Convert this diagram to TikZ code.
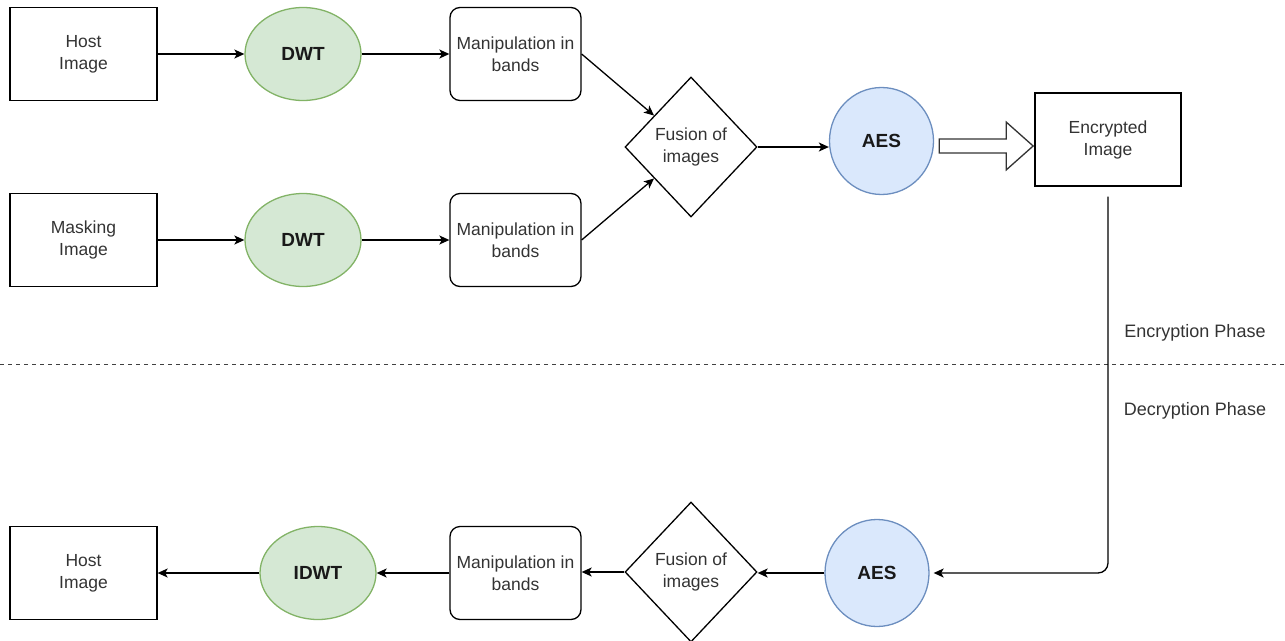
\documentclass[tikz,border=0pt]{standalone}
\usepackage{fontspec}
\setmainfont{Liberation Sans}
\usetikzlibrary{arrows.meta,shapes.geometric,calc}
\definecolor{grnfill}{HTML}{D5E8D4}
\definecolor{grnline}{HTML}{82B366}
\definecolor{blufill}{HTML}{DAE8FC}
\definecolor{bluline}{HTML}{6C8EBF}
\definecolor{txt}{HTML}{333333}
\begin{document}
\begin{tikzpicture}[x=1pt,y=-1pt,
  base/.style={line width=1.3pt, font=\fontsize{17.5}{22}\selectfont, text=txt, align=center, inner sep=0pt},
  imgbox/.style={base, draw, minimum width=147pt, minimum height=93pt},
  bandbox/.style={base, draw, rounded corners=10pt, minimum width=131pt, minimum height=93pt},
  dwtnode/.style={base, ellipse, draw=grnline, fill=grnfill, minimum width=116pt, minimum height=93pt,
    font=\fontsize{19}{22}\selectfont\bfseries, text=black!90},
  aesnode/.style={base, ellipse, draw=bluline, fill=blufill, minimum width=104pt, minimum height=107pt,
    font=\fontsize{19}{22}\selectfont\bfseries, text=black!90},
  fusnode/.style={base, diamond, draw, minimum width=132pt, minimum height=140pt},
  phase/.style={font=\fontsize{18}{22}\selectfont, text=txt, inner sep=0pt},
  arr/.style={line width=1.3pt, -{Stealth[length=10pt,width=9pt,inset=2.5pt]}},
]
\useasboundingbox (0,0) rectangle (1285,640);

% encryption row 1
\node[imgbox]  (host1) at (83.5,54)  {Host\\Image};
\node[dwtnode] (dwt1)  at (303,54)   {DWT};
\node[bandbox] (band1) at (515.5,54) {Manipulation in\\bands};

% encryption row 2
\node[imgbox]  (mask)  at (83.5,240)  {Masking\\Image};
\node[dwtnode] (dwt2)  at (303,240)   {DWT};
\node[bandbox] (band2) at (515.5,240) {Manipulation in\\bands};

% fusion and AES
\node[fusnode] (fus1) at (691,147)   {Fusion of\\images};
\node[aesnode] (aes1) at (881.5,141) {AES};
\node[imgbox, minimum width=146pt] (enc) at (1108,139.5) {Encrypted\\Image};

% decryption row
\node[aesnode] (aes2)  at (877,573)   {AES};
\node[fusnode] (fus2)  at (691,572)   {Fusion of\\images};
\node[bandbox] (band3) at (515.5,573) {Manipulation in\\bands};
\node[dwtnode] (idwt)  at (318,573)   {IDWT};
\node[imgbox]  (host2) at (83.5,573)  {Host\\Image};

% phase separator
\coordinate (sepL) at (0,364);
\coordinate (sepR) at (1285,364);
\draw[line width=1pt, black!75, dash pattern=on 4pt off 4pt] (sepL) -- (sepR);
\node[phase] (encph) at (1195,333) {Encryption Phase};
\node[phase] (decph) at (1195,411) {Decryption Phase};

% connectors, encryption
\draw[arr] (host1) -- (dwt1);
\draw[arr] (dwt1) -- (band1);
\draw[arr] (mask) -- (dwt2);
\draw[arr] (dwt2) -- (band2);
\draw[arr] (band1.east) -- (fus1);
\draw[arr] (band2.east) -- (fus1);
\draw[arr] (fus1.east) -- (fus1.east -| aes1.west);

% hollow block arrow towards the encrypted image
\draw[line width=1.3pt, black!80, fill=white]
  ([xshift=5pt,yshift=2pt]aes1.east) -- ++(67,0) -- ++(0,-17) -- ++(27,24)
  -- ++(-27,24) -- ++(0,-17) -- ++(-67,0) -- cycle;

% connectors, decryption
\draw[arr, rounded corners=10pt] ([yshift=-10pt]enc.south) |- ([xshift=4pt]aes2.east);
\draw[arr] (aes2.west) -- (aes2.west -| fus2.east);
\draw[arr] (fus2.west) -- (fus2.west -| band3.east);
\draw[arr] (band3) -- (idwt);
\draw[arr] (idwt) -- (host2);
\end{tikzpicture}
\end{document}
